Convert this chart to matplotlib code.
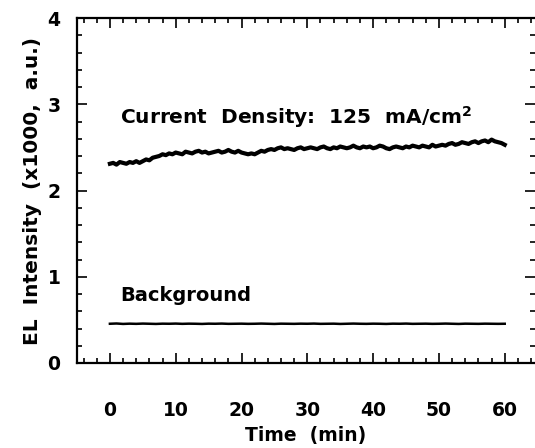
import matplotlib.pyplot as plt
from matplotlib.ticker import MultipleLocator
import numpy as np

plt.rcParams['font.family'] = ['DejaVu Sans']
plt.rcParams['font.weight'] = 'bold'

# EL intensity (x1000, a.u.) sampled every 0.5 min, 125 mA/cm2
current = [
    2.31, 2.32, 2.30, 2.33, 2.32, 2.31, 2.33, 2.32, 2.34, 2.32,
    2.34, 2.36, 2.35, 2.38, 2.39, 2.40, 2.42, 2.41, 2.43, 2.42,
    2.44, 2.43, 2.42, 2.45, 2.44, 2.43, 2.45, 2.46, 2.44, 2.45,
    2.43, 2.44, 2.45, 2.46, 2.44, 2.45, 2.47, 2.45, 2.44, 2.46,
    2.44, 2.43, 2.42, 2.43, 2.42, 2.44, 2.46, 2.45, 2.47, 2.48,
    2.47, 2.49, 2.50, 2.48, 2.49, 2.48, 2.47, 2.49, 2.50, 2.48,
    2.49, 2.50, 2.49, 2.48, 2.50, 2.51, 2.49, 2.48, 2.50, 2.49,
    2.51, 2.50, 2.49, 2.50, 2.52, 2.50, 2.49, 2.51, 2.50, 2.51,
    2.49, 2.50, 2.52, 2.51, 2.49, 2.48, 2.50, 2.51, 2.50, 2.49,
    2.51, 2.50, 2.52, 2.51, 2.50, 2.52, 2.51, 2.50, 2.53, 2.51,
    2.52, 2.53, 2.52, 2.54, 2.55, 2.53, 2.54, 2.56, 2.55, 2.54,
    2.56, 2.57, 2.55, 2.57, 2.58, 2.56, 2.59, 2.57, 2.56, 2.55,
    2.53,
]
t_current = np.linspace(0, 60, len(current))

# background, every 1 min
background = [
    0.455, 0.458, 0.453, 0.456, 0.454, 0.457, 0.455, 0.453, 0.456, 0.455,
    0.457, 0.454, 0.456, 0.455, 0.453, 0.456, 0.455, 0.457, 0.454, 0.455,
    0.456, 0.454, 0.455, 0.457, 0.455, 0.453, 0.456, 0.455, 0.454, 0.456,
    0.455, 0.457, 0.454, 0.455, 0.456, 0.453, 0.455, 0.457, 0.455, 0.454,
    0.456, 0.455, 0.453, 0.456, 0.455, 0.457, 0.454, 0.455, 0.456, 0.454,
    0.455, 0.457, 0.455, 0.453, 0.456, 0.455, 0.454, 0.456, 0.455, 0.454,
    0.455,
]
t_background = np.linspace(0, 60, len(background))

xticks = [0, 10, 20, 30, 40, 50, 60]
yticks = [0, 1, 2, 3, 4]

fig = plt.figure(figsize=(5.35, 4.48), dpi=100)
ax = fig.add_axes([77/535, 1 - 363/448, 1 - 77/535, (363 - 18)/448])

ax.plot(t_current, current, color='black', lw=3.0)
ax.plot(t_background, background, color='black', lw=1.8)

ax.text(1.5, 2.85, 'Current  Density:  125  mA/cm$^\\mathbf{2}$', fontsize=14.5,
        fontweight='bold', va='center')
ax.text(1.5, 0.78, 'Background', fontsize=14, fontweight='bold', va='center')

ax.set_xlim(-5, 64.6)
ax.set_ylim(0, 4)
ax.set_xticks(xticks)
ax.set_yticks(yticks)
ax.xaxis.set_minor_locator(MultipleLocator(2))
ax.yaxis.set_minor_locator(MultipleLocator(0.2))
ax.tick_params(which='both', direction='in', top=True, right=True, width=1.2)
ax.tick_params(which='major', length=7, labelsize=13.5)
ax.tick_params(which='minor', length=3.5)
ax.tick_params(axis='x', which='major', pad=27)
ax.tick_params(axis='y', which='major', pad=12)
for lab in ax.get_xticklabels() + ax.get_yticklabels():
    lab.set_fontweight('bold')

for s in ['left', 'top', 'bottom']:
    ax.spines[s].set_linewidth(1.6)
ax.spines['right'].set_visible(False)

ax.set_xlabel('Time  (min)', fontsize=13.5, fontweight='bold', labelpad=5)
ax.set_ylabel('EL  Intensity  (x1000,  a.u.)', fontsize=14.5, fontweight='bold', labelpad=4)

plt.savefig('out.png', dpi=100)
